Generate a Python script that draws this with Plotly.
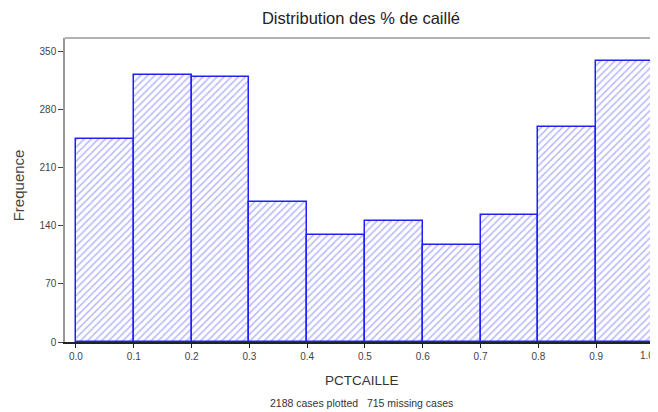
import plotly.graph_objects as go

bin_edges = [0.0, 0.1, 0.2, 0.3, 0.4, 0.5, 0.6, 0.7, 0.8, 0.9, 1.0]
frequencies = [245, 322, 319, 168, 129, 146, 117, 153, 259, 338]
x_tick_labels = ["0.0", "0.1", "0.2", "0.3", "0.4", "0.5", "0.6", "0.7", "0.8", "0.9", "1.0"]
y_ticks = [0, 70, 140, 210, 280, 350]

centers = [(a + b) / 2 for a, b in zip(bin_edges[:-1], bin_edges[1:])]
widths = [b - a for a, b in zip(bin_edges[:-1], bin_edges[1:])]

fig = go.Figure()
fig.add_trace(go.Bar(
    x=centers, y=frequencies, width=widths,
    marker=dict(
        color="white",
        line=dict(color="#2020ff", width=1.5),
        pattern=dict(shape="/", fgcolor="#6f6fff", bgcolor="white", size=5, solidity=0.3),
    ),
    hoverinfo="x+y",
))

# page body has an 8px margin: figure is sized/offset to compensate
fig.update_layout(
    width=650, height=404,
    margin=dict(l=57, r=0, t=30, b=70),
    paper_bgcolor="white", plot_bgcolor="white",
    showlegend=False,
    bargap=0,
    font=dict(family="Liberation Sans, Arial, sans-serif", color="#333333"),
    title=dict(text="Distribution des % de caillé", x=0.543, xanchor="center",
               y=0.975, yanchor="middle", font=dict(size=16.5, color="#222222")),
    xaxis=dict(
        range=[-0.019, 1.007], tickvals=bin_edges[:-1], ticktext=x_tick_labels[:-1],
        showgrid=False, zeroline=False, showline=True, linecolor="#222222", linewidth=1.5,
        ticks="outside", ticklen=4, tickcolor="#222222", tickfont=dict(size=10, color="#444444"),
    ),
    yaxis=dict(
        range=[0, 366], tickvals=y_ticks,
        showgrid=False, zeroline=False, showline=True, linecolor="#999999", linewidth=1.5,
        ticks="outside", ticklen=5, tickcolor="#444444", tickfont=dict(size=10, color="#444444"),
    ),
    shapes=[
        dict(type="line", xref="paper", yref="paper", x0=0, x1=1, y0=1, y1=1,
             line=dict(color="#999999", width=1.5)),
        dict(type="line", xref="x", yref="paper", x0=bin_edges[-1], x1=bin_edges[-1],
             y0=0, y1=-0.013, line=dict(color="#222222", width=1)),
    ],
    annotations=[
        dict(text=x_tick_labels[-1], xref="x", yref="paper", x=bin_edges[-1], y=-0.043,
             xanchor="right", yanchor="middle", xshift=2, showarrow=False,
             font=dict(size=10, color="#444444")),
        dict(text="PCTCAILLE", xref="paper", yref="paper", x=0.5, y=-0.128,
             xanchor="center", yanchor="middle", showarrow=False,
             font=dict(size=13.5, color="#333333")),
        dict(text="Frequence", xref="paper", yref="paper", x=-0.079, y=0.516,
             xanchor="center", yanchor="middle", textangle=-90, showarrow=False,
             font=dict(size=15, color="#444444")),
        dict(text="2188 cases plotted   715 missing cases", xref="paper", yref="paper",
             x=0.5, y=-0.2, xanchor="center", yanchor="middle", showarrow=False,
             font=dict(size=10.5, color="#333333")),
    ],
)

fig.write_html("out.html")
